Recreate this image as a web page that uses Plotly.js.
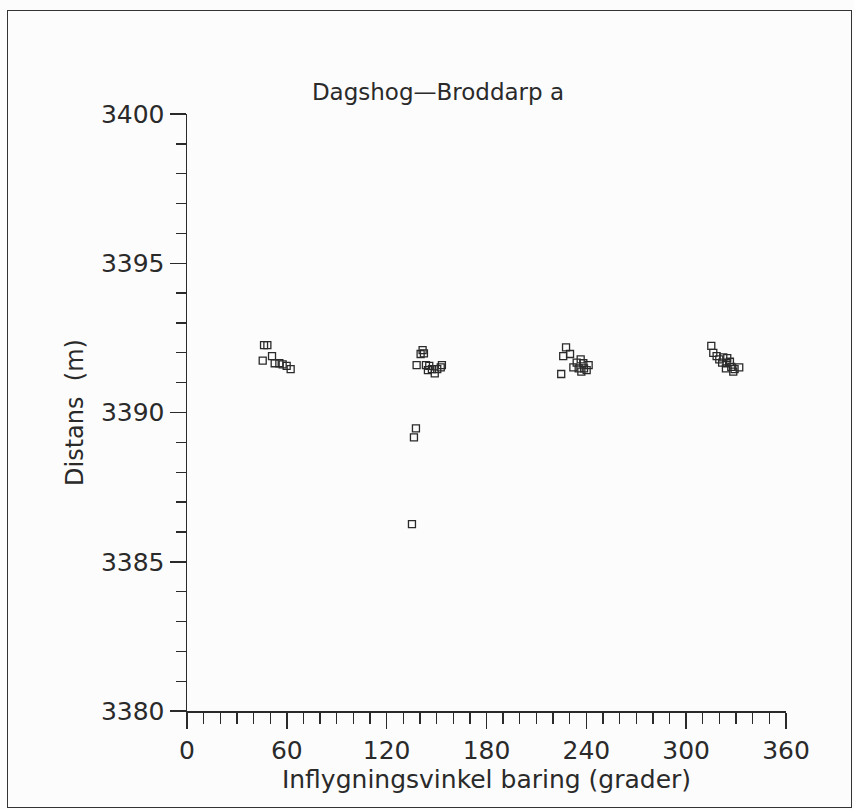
<!DOCTYPE html>
<html>
<head>
<meta charset="utf-8">
<script src="https://cdn.plot.ly/plotly-3.0.1.min.js"></script>
<style>
  html, body { margin: 0; padding: 0; background: #fcfcfc; }
  #wrap { position: relative; width: 854px; height: 810px; }
  #chart { position: absolute; left: 0; top: 0; width: 854px; height: 810px; }
  #frame { position: absolute; left: 7px; top: 10px; width: 843px; height: 796px;
           border: 1.5px solid #333; pointer-events: none; }
</style>
</head>
<body>
<div id="wrap">
  <div id="chart"></div>
  <div id="frame"></div>
</div>
<script>
// Bearing (degrees) of approach
const bearing = [
  46.3, 48.3, 45.5, 51.1, 52.7, 55.5, 57.5, 59.9, 62.3,
  141.6, 140.4, 142.4, 138.0, 143.6, 145.6, 144.8, 147.2, 148.9, 150.4, 152.5, 153.2,
  137.6, 136.4, 135.2,
  227.8, 226.1, 230.2, 224.9, 236.6, 234.2, 238.2, 232.2, 235.4, 238.6, 241.4, 237.0, 240.2,
  315.1, 316.3, 318.3, 319.9, 322.3, 324.7, 321.6, 324.3, 326.3, 323.9, 327.1, 329.1, 331.9, 328.3
];
// Distance (m)
const distance = [
  3392.26, 3392.26, 3391.74, 3391.89, 3391.65, 3391.65, 3391.61, 3391.56, 3391.45,
  3392.09, 3391.96, 3391.98, 3391.59, 3391.59, 3391.56, 3391.42, 3391.45, 3391.31, 3391.45, 3391.51, 3391.59,
  3389.47, 3389.17, 3386.26,
  3392.18, 3391.89, 3391.96, 3391.29, 3391.78, 3391.67, 3391.65, 3391.51, 3391.48, 3391.48, 3391.59, 3391.37, 3391.42,
  3392.23, 3392.00, 3391.89, 3391.78, 3391.85, 3391.82, 3391.67, 3391.65, 3391.70, 3391.48, 3391.53, 3391.45, 3391.51, 3391.37
];
const xTicks = [0, 60, 120, 180, 240, 300, 360];
const yTicks = [3380, 3385, 3390, 3395, 3400];

const ink = '#2a2a2a';
const fontFam = '"DejaVu Sans", "Liberation Sans", sans-serif';

const trace = {
  x: bearing, y: distance, type: 'scatter', mode: 'markers',
  marker: { symbol: 'square-open', size: 7, color: ink, line: { width: 1.3, color: ink } },
  hoverinfo: 'skip'
};

const layout = {
  width: 854, height: 810,
  margin: { l: 187, r: 68, t: 114, b: 99 },
  paper_bgcolor: 'rgba(0,0,0,0)',
  plot_bgcolor: 'rgba(0,0,0,0)',
  showlegend: false,
  font: { family: fontFam, color: ink },
  title: {
    text: 'Dagshog\u2014Broddarp a',
    font: { family: fontFam, size: 23, color: ink },
    xref: 'paper', x: 0.419, xanchor: 'center',
    yref: 'container', y: 1 - 92 / 810, yanchor: 'middle'
  },
  xaxis: {
    range: [0, 360], tickmode: 'array', tickvals: xTicks, ticktext: xTicks.map(String),
    showline: true, linecolor: ink, linewidth: 1.5, mirror: false, zeroline: false, showgrid: false,
    ticks: 'outside', ticklen: 16, tickwidth: 1.5, tickcolor: ink,
    minor: { dtick: 10, ticks: 'outside', ticklen: 11, tickwidth: 1.3, tickcolor: ink, showgrid: false },
    tickfont: { family: fontFam, size: 25, color: ink },
    title: { text: 'Inflygningsvinkel baring (grader)', font: { family: fontFam, size: 25, color: ink }, standoff: 6 },
    fixedrange: true
  },
  yaxis: {
    range: [3380, 3400], tickmode: 'array', tickvals: yTicks, ticktext: yTicks.map(String),
    showline: true, linecolor: ink, linewidth: 1.5, zeroline: false, showgrid: false,
    ticks: 'outside', ticklen: 16, tickwidth: 1.5, tickcolor: ink,
    minor: { dtick: 1, ticks: 'outside', ticklen: 10, tickwidth: 1.3, tickcolor: ink, showgrid: false },
    tickfont: { family: fontFam, size: 25, color: ink },
    title: { text: 'Distans  (m)', font: { family: fontFam, size: 24, color: ink }, standoff: 10 },
    fixedrange: true
  }
};

Plotly.newPlot('chart', [trace], layout, { displayModeBar: false, staticPlot: true });
</script>
</body>
</html>
